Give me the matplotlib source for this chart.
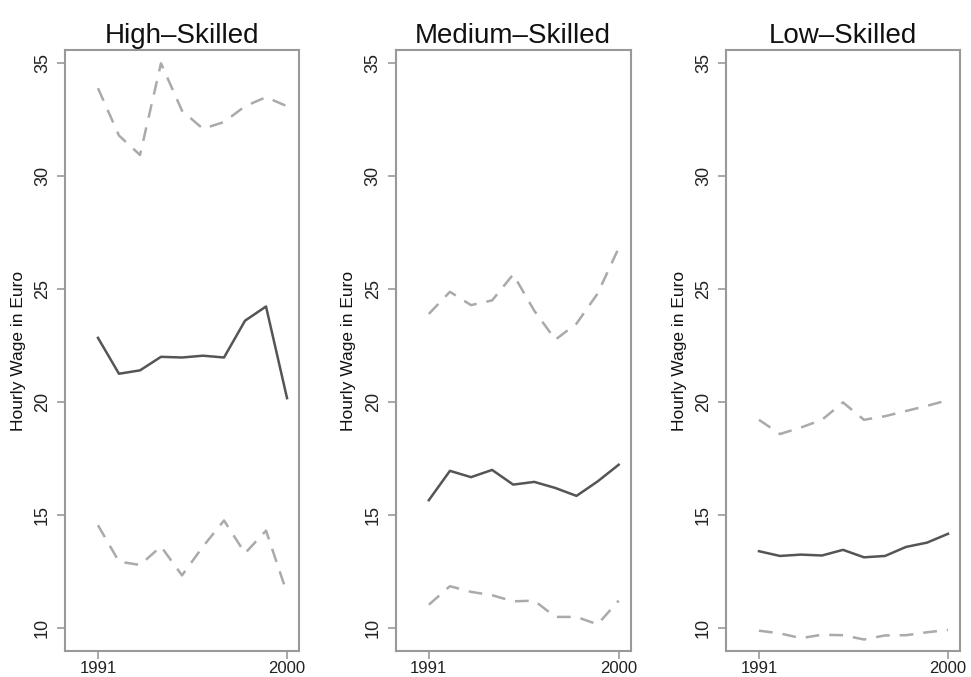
import matplotlib
matplotlib.use("Agg")
import matplotlib.pyplot as plt

years = list(range(1991, 2001))

titles = ["High\u2013Skilled", "Medium\u2013Skilled", "Low\u2013Skilled"]

high_upper = [33.9, 31.8, 30.94, 35.0, 32.9, 32.1, 32.4, 33.1, 33.5, 33.1]
high_mean = [22.84, 21.25, 21.4, 22.0, 21.97, 22.05, 21.97, 23.6, 24.23, 20.17]
high_lower = [14.54, 12.93, 12.78, 13.6, 12.32, 13.6, 14.75, 13.3, 14.3, 11.53]

med_upper = [23.9, 24.88, 24.29, 24.5, 25.65, 24.04, 22.76, 23.47, 24.8, 26.82]
med_mean = [15.65, 16.95, 16.67, 16.99, 16.34, 16.46, 16.19, 15.84, 16.48, 17.22]
med_lower = [11.02, 11.84, 11.59, 11.44, 11.17, 11.2, 10.48, 10.48, 10.15, 11.2]

low_upper = [19.21, 18.58, 18.87, 19.21, 19.98, 19.21, 19.37, 19.6, 19.83, 20.08]
low_mean = [13.39, 13.18, 13.24, 13.2, 13.45, 13.12, 13.18, 13.58, 13.77, 14.16]
low_lower = [9.87, 9.75, 9.54, 9.69, 9.67, 9.48, 9.66, 9.67, 9.8, 9.9]

panels = [
    (high_upper, high_mean, high_lower),
    (med_upper, med_mean, med_lower),
    (low_upper, low_mean, low_lower),
]

xticks = [1991, 2000]
yticks = [10, 15, 20, 25, 30, 35]
ylabel = "Hourly Wage in Euro"

plt.rcParams['font.family'] = ['Liberation Sans', 'DejaVu Sans']

W, H = 971, 677
fig = plt.figure(figsize=(W / 100, H / 100), dpi=100)

lefts = [65, 395.7, 726]
widths = [234, 235, 234]
top, bottom = 50, 651

box_color = "#999999"
for i, (up, mean, lo) in enumerate(panels):
    ax = fig.add_axes([lefts[i] / W, (H - bottom) / H, widths[i] / W, (bottom - top) / H])
    ax.plot(years, up, color="#aaaaaa", lw=1.8, dashes=(5.5, 4))
    ax.plot(years, lo, color="#aaaaaa", lw=1.8, dashes=(5.5, 4))
    ax.plot(years, mean, color="#555555", lw=1.8)
    ax.set_xlim(1989.43, 2000.57)
    ax.set_ylim(8.97, 35.59)
    ax.set_xticks(xticks)
    ax.set_xticklabels([str(x) for x in xticks], fontsize=12, color="#222222")
    ax.set_yticks(yticks)
    ax.set_yticklabels([str(y) for y in yticks], fontsize=13, color="#222222",
                       rotation=90, va="center")
    ax.tick_params(axis="both", direction="out", length=6, width=1.2, color=box_color, pad=4)
    ax.tick_params(axis="x", pad=1.5)
    for s in ax.spines.values():
        s.set_color(box_color)
        s.set_linewidth(1.5)
    ax.set_title(titles[i], fontsize=20, pad=5, color="#111111")
    ax.set_ylabel(ylabel, fontsize=12.5, color="#111111", labelpad=6)

fig.savefig("out.png", dpi=100)
